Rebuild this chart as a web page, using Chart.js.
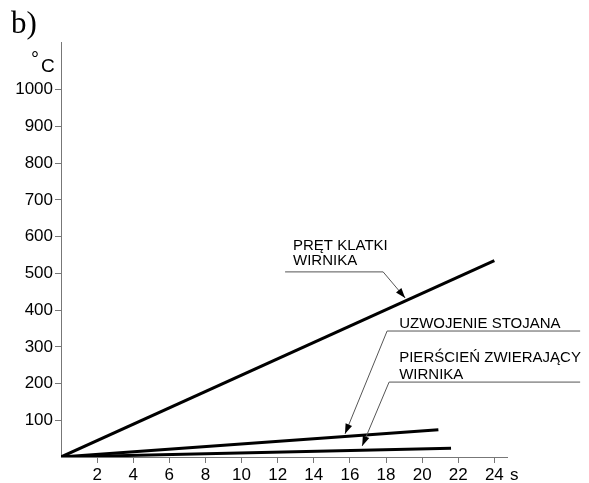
<!DOCTYPE html>
<html>
<head>
<meta charset="utf-8">
<script src="https://cdn.jsdelivr.net/npm/chart.js@4/dist/chart.umd.min.js"></script>
<style>
  html, body { margin: 0; padding: 0; background: #fff; }
  #wrap { width: 589px; height: 483px; }
</style>
</head>
<body>
<div id="wrap"><canvas id="chart" width="589" height="483"></canvas></div>
<script>
// time [s] and temperature [°C] at line ends (lines start at origin)
const pretX = [0, 24];
const pretY = [0, 535];
const uzwojenieX = [0, 20.9];
const uzwojenieY = [0, 74];
const pierscienX = [0, 21.6];
const pierscienY = [0, 24];

const xTicks = [2, 4, 6, 8, 10, 12, 14, 16, 18, 20, 22, 24];
const yTicks = [100, 200, 300, 400, 500, 600, 700, 800, 900, 1000];

// labels with leader lines, in data units
const notes = [
    { lines: ['PRĘT KLATKI', 'WIRNIKA'], textX: 12.85, baselines: [564, 523],
      under: [12.41, 17.84], underY: 504, elbowX: 17.84, tip: [19.06, 433] },
    { lines: ['UZWOJENIE STOJANA'], textX: 18.73, baselines: [351],
      under: [18.06, 28.75], underY: 343, elbowX: 18.06, tip: [15.73, 63] },
    { lines: ['PIERŚCIEŃ ZWIERAJĄCY', 'WIRNIKA'], textX: 18.73, baselines: [259, 213],
      under: [18.17, 28.75], underY: 204, elbowX: 18.17, tip: [16.68, 30] }
];

function toPoints(xs, ys) {
    return xs.map((x, i) => ({ x: x, y: ys[i] }));
}

const extras = {
    id: 'extras',
    afterDraw(chart) {
        const ctx = chart.ctx;
        const xs = chart.scales.x;
        const ys = chart.scales.y;
        ctx.save();

        // panel letter
        ctx.fillStyle = '#000';
        ctx.font = '31px "Liberation Serif", "Times New Roman", serif';
        ctx.textBaseline = 'alphabetic';
        ctx.textAlign = 'left';
        ctx.fillText('b)', 11, 33);

        // units
        ctx.font = '20px "Liberation Sans", Arial, sans-serif';
        ctx.fillText('°', 31, 66);
        ctx.font = '19px "Liberation Sans", Arial, sans-serif';
        ctx.fillText('C', 41, 72);
        ctx.font = '17px "Liberation Sans", Arial, sans-serif';
        ctx.fillText('s', 510, 480);

        // annotations
        notes.forEach(n => {
            ctx.font = '15px "Liberation Sans", Arial, sans-serif';
            ctx.fillStyle = '#000';
            n.lines.forEach((t, i) => {
                ctx.fillText(t, xs.getPixelForValue(n.textX), ys.getPixelForValue(n.baselines[i]));
            });
            const uy = ys.getPixelForValue(n.underY);
            const ex = xs.getPixelForValue(n.elbowX);
            const tx = xs.getPixelForValue(n.tip[0]);
            const ty = ys.getPixelForValue(n.tip[1]);
            ctx.strokeStyle = '#555';
            ctx.lineWidth = 1;
            ctx.beginPath();
            ctx.moveTo(xs.getPixelForValue(n.under[0]), uy);
            ctx.lineTo(xs.getPixelForValue(n.under[1]), uy);
            ctx.moveTo(ex, uy);
            ctx.lineTo(tx, ty);
            ctx.stroke();
            // arrow head
            const ang = Math.atan2(ty - uy, tx - ex);
            const len = 10, half = 3.5;
            const bx = tx - len * Math.cos(ang);
            const by = ty - len * Math.sin(ang);
            ctx.fillStyle = '#000';
            ctx.beginPath();
            ctx.moveTo(tx, ty);
            ctx.lineTo(bx + half * Math.sin(ang), by - half * Math.cos(ang));
            ctx.lineTo(bx - half * Math.sin(ang), by + half * Math.cos(ang));
            ctx.closePath();
            ctx.fill();
        });
        ctx.restore();
    }
};

const lineStyle = {
    borderColor: '#000',
    borderWidth: 3,
    pointRadius: 0,
    fill: false,
    tension: 0
};

new Chart(document.getElementById('chart'), {
    type: 'line',
    data: {
        datasets: [
            Object.assign({ label: 'PRĘT KLATKI WIRNIKA', data: toPoints(pretX, pretY) }, lineStyle),
            Object.assign({ label: 'UZWOJENIE STOJANA', data: toPoints(uzwojenieX, uzwojenieY) }, lineStyle),
            Object.assign({ label: 'PIERŚCIEŃ ZWIERAJĄCY WIRNIKA', data: toPoints(pierscienX, pierscienY) }, lineStyle)
        ]
    },
    options: {
        responsive: false,
        animation: false,
        layout: { padding: { top: 42, right: 82, left: 0, bottom: 0 } },
        plugins: {
            legend: { display: false },
            tooltip: { enabled: false }
        },
        scales: {
            x: {
                type: 'linear',
                min: 0,
                max: 24.7,
                afterBuildTicks: s => { s.ticks = xTicks.map(v => ({ value: v })); },
                afterFit: s => { s.height = 26; },
                grid: { drawOnChartArea: false, drawTicks: true, tickLength: 6, color: '#777' },
                border: { display: true, color: '#777', width: 1 },
                ticks: {
                    color: '#000',
                    padding: 2,
                    maxRotation: 0,
                    autoSkip: false,
                    callback: v => String(v),
                    font: { family: '"Liberation Sans", Arial, sans-serif', size: 17 }
                }
            },
            y: {
                type: 'linear',
                min: 0,
                max: 1130,
                afterBuildTicks: s => { s.ticks = yTicks.map(v => ({ value: v })); },
                afterFit: s => { s.width = 61; },
                grid: { drawOnChartArea: false, drawTicks: true, tickLength: 6, color: '#777' },
                border: { display: true, color: '#777', width: 1 },
                ticks: {
                    color: '#000',
                    padding: 2,
                    autoSkip: false,
                    callback: v => String(v),
                    font: { family: '"Liberation Sans", Arial, sans-serif', size: 17 }
                }
            }
        }
    },
    plugins: [extras]
});
</script>
</body>
</html>
